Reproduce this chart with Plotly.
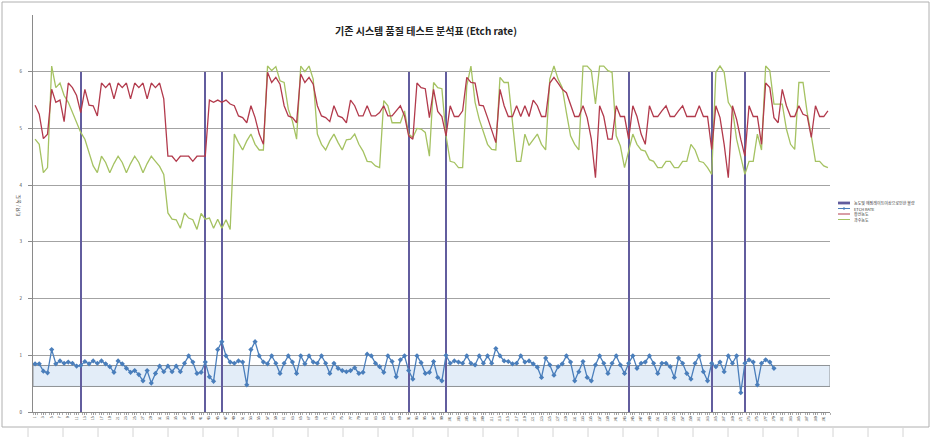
import plotly.graph_objects as go

# ---------------- data ----------------
categories = list(range(1, 193))
tick_vals = [c for c in categories if c % 2 == 1]
tick_text = [str(c) for c in tick_vals]
y_ticks = [0, 1, 2, 3, 4, 5, 6]

series_names = ["농도및 에칭레이트이상으로인한 불량", "ETCH RATE", "황산농도", "과수농도"]

event_cats = [12, 42, 46, 91, 100, 144, 164, 172]
event_vals = [6, 6, 6, 6, 6, 6, 6, 6]

etch_rate = [
    0.85, 0.85, 0.72, 0.69, 1.1, 0.85, 0.9, 0.86, 0.88, 0.86,
    0.81, 0.82, 0.89, 0.85, 0.9, 0.86, 0.9, 0.85, 0.8, 0.7,
    0.9, 0.85, 0.77, 0.7, 0.73, 0.66, 0.55, 0.73, 0.51, 0.68,
    0.81, 0.71, 0.81, 0.71, 0.81, 0.71, 0.86, 0.99, 0.88, 0.68,
    0.7, 0.88, 0.62, 0.54, 1.1, 1.24, 0.99, 0.88, 0.86, 0.9,
    0.88, 0.48, 1.1, 1.24, 0.99, 0.88, 0.85, 0.99, 0.86, 0.68,
    0.86, 0.99, 0.88, 0.68, 0.99, 0.85, 0.99, 0.88, 0.86, 0.99,
    0.86, 0.68, 0.86, 0.77, 0.73, 0.71, 0.73, 0.78, 0.68, 0.7,
    1.02, 0.99, 0.86, 0.8, 0.7, 0.99, 0.89, 0.62, 0.92, 0.99,
    0.73, 0.58, 0.99, 0.87, 0.68, 0.7,
    0.89, 0.61, 0.55, 1.0, 0.86, 0.9, 0.88, 0.86, 0.99, 0.86,
    0.83, 0.99, 0.86, 0.99, 0.86, 1.12, 0.99, 0.9, 0.89, 0.85,
    0.86, 0.99, 0.88, 0.9, 0.85, 0.79, 0.61, 0.95, 0.83, 0.65,
    0.8, 0.85, 0.99, 0.88, 0.55, 0.71, 0.89, 0.61, 0.55, 0.83,
    0.99, 0.86, 0.68, 0.86, 0.99, 0.83, 0.68, 0.86, 0.99, 0.77,
    0.86, 0.88, 0.99, 0.86, 0.68, 0.86, 0.86, 0.8, 0.61, 0.95,
    0.86, 0.68, 0.58, 0.86, 0.99, 0.71, 0.55, 0.86, 0.8, 0.88,
    0.71, 0.99, 0.86, 0.99, 0.34, 0.86, 0.92, 0.88, 0.48, 0.86,
    0.92, 0.88, 0.77,
]

sulfuric = [
    5.41, 5.25, 4.82, 4.9, 5.69, 5.46, 5.5, 5.12, 5.8, 5.72,
    5.58, 5.28, 5.69, 5.41, 5.4, 5.22, 5.8, 5.72, 5.8, 5.52,
    5.8, 5.72, 5.8, 5.52, 5.8, 5.72, 5.8, 5.52, 5.8, 5.72,
    5.8, 5.52, 4.51, 4.51, 4.42, 4.51, 4.51, 4.51, 4.42, 4.51,
    4.51, 4.51, 5.5, 5.46, 5.5, 5.46, 5.5, 5.43, 5.4, 5.22,
    5.19, 5.1, 5.4, 5.19, 4.9, 4.72, 5.99, 5.81, 5.9, 5.78,
    5.4, 5.22, 5.19, 5.1, 5.96, 5.81, 5.9, 5.78, 5.4, 5.22,
    5.19, 5.12, 5.4, 5.22, 5.19, 5.1, 5.5, 5.4, 5.22, 5.22,
    5.4, 5.22, 5.22, 5.28, 5.4, 5.22, 5.22, 5.31, 5.4, 5.22,
    4.87, 4.81, 5.8, 5.72, 5.7, 5.19, 5.69, 5.3, 5.21, 4.87,
    5.4, 5.21, 5.21, 5.31, 5.9, 5.81, 5.8, 5.41, 5.4, 5.19,
    4.96, 4.75, 5.69, 5.4, 5.21, 5.21, 5.4, 5.21, 5.4, 5.21,
    5.5, 5.4, 5.21, 5.21, 5.8, 5.9, 5.8, 5.69, 5.63, 5.4,
    5.21, 5.21, 5.4, 5.19, 4.81, 4.13, 5.4, 5.21, 4.81, 4.81,
    5.4, 5.21, 5.21, 4.81, 5.4, 5.21, 4.9, 4.72, 5.4, 5.21,
    5.21, 5.31, 5.4, 5.21, 5.21, 5.31, 5.4, 5.21, 5.21, 5.21,
    5.4, 5.21, 5.21, 4.63, 5.4, 5.19, 4.72, 4.13, 5.4, 5.16,
    4.81, 4.51, 5.4, 5.21, 5.21, 4.72, 5.8, 5.72, 5.19, 5.1,
    5.69, 5.4, 5.21, 5.21, 5.4, 5.25, 5.22, 4.84, 5.4, 5.21,
    5.21, 5.31,
]

peroxide = [
    4.81, 4.72, 4.22, 4.31, 6.1, 5.72, 5.8, 5.58, 5.46, 5.28,
    5.1, 4.93, 4.81, 4.57, 4.34, 4.22, 4.51, 4.4, 4.22, 4.38,
    4.51, 4.4, 4.22, 4.38, 4.51, 4.4, 4.22, 4.38, 4.51, 4.42,
    4.33, 4.19, 3.51, 3.4, 3.39, 3.24, 3.51, 3.42, 3.39, 3.22,
    3.5, 3.4, 3.42, 3.24, 3.4, 3.24, 3.39, 3.22, 4.9, 4.75,
    4.62, 4.78, 4.9, 4.72, 4.62, 4.62, 6.1, 6.02, 6.09, 5.84,
    5.81, 5.34, 5.13, 4.81, 6.1, 6.0, 6.1, 5.87, 4.9, 4.72,
    4.62, 4.78, 4.9, 4.75, 4.62, 4.8, 4.81, 4.9, 4.72, 4.6,
    4.42, 4.41, 4.34, 4.31, 5.49, 5.4, 5.1, 5.1, 5.1, 5.31,
    4.9, 4.84, 5.0, 4.99, 4.93, 4.51, 5.81, 5.72, 5.7, 4.87,
    4.42, 4.4, 4.31, 4.31, 5.75, 6.1, 5.46, 5.16, 4.93, 4.72,
    4.63, 4.62, 5.9, 5.81, 5.81, 5.13, 4.42, 4.42, 4.9, 4.7,
    4.81, 4.9, 4.72, 4.62, 5.87, 6.1, 5.87, 5.72, 5.28, 4.87,
    4.72, 4.62, 6.1, 6.1, 6.02, 5.43, 6.1, 6.1, 6.02, 5.99,
    4.87, 4.69, 4.31, 4.6, 4.9, 4.72, 4.62, 4.6, 4.45, 4.42,
    4.31, 4.31, 4.42, 4.42, 4.31, 4.31, 4.42, 4.42, 4.72, 4.62,
    4.42, 4.4, 4.31, 4.19, 5.99, 6.1, 5.99, 5.46, 5.34, 4.81,
    4.51, 4.19, 4.42, 4.42, 4.9, 4.62, 6.1, 6.02, 5.43, 5.43,
    5.43, 4.99, 4.72, 4.63, 5.81, 5.81, 5.28, 4.87, 4.42, 4.42,
    4.34, 4.31,
]

band_low, band_high = 0.45, 0.82

# ---------------- style / layout ----------------
W, H = 932, 437
L, R, T, B = 33, 102, 15, 25
PW, PH = W - L - R, H - T - B
FONT = "Noto Sans CJK KR"

C_EVENT = "#625d9e"
C_ETCH = "#4a7ebb"
C_SULF = "#b23a4c"
C_PER = "#a5c262"
C_GRID = "#a3a3a3"


def xp(px):
    return (px - L) / PW


def yp(py):
    return (H - B - py) / PH


fig = go.Figure()

fig.add_trace(go.Bar(
    x=event_cats, y=event_vals, width=0.5, name=series_names[0],
    marker=dict(color=C_EVENT, line=dict(width=0)), showlegend=False,
))
fig.add_trace(go.Scatter(
    x=categories[:len(peroxide)], y=peroxide, mode="lines", name=series_names[3],
    line=dict(color=C_PER, width=1.3), showlegend=False,
))
fig.add_trace(go.Scatter(
    x=categories[:len(sulfuric)], y=sulfuric, mode="lines", name=series_names[2],
    line=dict(color=C_SULF, width=1.3), showlegend=False,
))
fig.add_trace(go.Scatter(
    x=categories[:len(etch_rate)], y=etch_rate, mode="lines+markers", name=series_names[1],
    line=dict(color=C_ETCH, width=1.3),
    marker=dict(symbol="diamond", size=4, color=C_ETCH), showlegend=False,
))

shapes = []
# spec band
shapes.append(dict(type="rect", xref="x", yref="y", x0=0.5, x1=len(categories) + 0.5,
                   y0=band_low, y1=band_high, fillcolor="#e3edf8",
                   line=dict(color="#8e9296", width=1), layer="below"))
# chart frame
shapes.append(dict(type="rect", xref="paper", yref="paper", x0=xp(2), x1=xp(929),
                   y0=yp(427), y1=yp(2), line=dict(color="#b0b0b0", width=1),
                   fillcolor="rgba(0,0,0,0)", layer="below"))
# spreadsheet cell lines below chart
for k in range(27):
    px = 28 + 35 * k
    if px > W:
        break
    shapes.append(dict(type="line", xref="paper", yref="paper", x0=xp(px), x1=xp(px),
                       y0=yp(437), y1=yp(428), line=dict(color="#d4d4d4", width=1)))

# custom compact legend
leg_rows = [203, 208.5, 214, 219.5]
lx0, lx1 = 838, 850
shapes.append(dict(type="rect", xref="paper", yref="paper", x0=xp(lx0), x1=xp(lx1),
                   y0=yp(leg_rows[0] + 1.4), y1=yp(leg_rows[0] - 1.4),
                   fillcolor=C_EVENT, line=dict(width=0)))
shapes.append(dict(type="line", xref="paper", yref="paper", x0=xp(lx0), x1=xp(lx1),
                   y0=yp(leg_rows[1]), y1=yp(leg_rows[1]), line=dict(color=C_ETCH, width=1)))
shapes.append(dict(type="rect", xref="paper", yref="paper", x0=xp(843), x1=xp(845),
                   y0=yp(leg_rows[1] + 1), y1=yp(leg_rows[1] - 1),
                   fillcolor=C_ETCH, line=dict(width=0)))
shapes.append(dict(type="line", xref="paper", yref="paper", x0=xp(lx0), x1=xp(lx1),
                   y0=yp(leg_rows[2]), y1=yp(leg_rows[2]), line=dict(color=C_SULF, width=1)))
shapes.append(dict(type="line", xref="paper", yref="paper", x0=xp(lx0), x1=xp(lx1),
                   y0=yp(leg_rows[3]), y1=yp(leg_rows[3]), line=dict(color=C_PER, width=1)))

annotations = []
for name, row in zip(series_names, leg_rows):
    annotations.append(dict(text=name, xref="paper", yref="paper", x=xp(852), y=yp(row),
                            xanchor="left", yanchor="middle", showarrow=False,
                            font=dict(family=FONT, size=4, color="#333333")))
# y axis title
annotations.append(dict(text="E/R / 농도", xref="paper", yref="paper", x=xp(17), y=yp(205),
                        xanchor="center", yanchor="middle", showarrow=False, textangle=-90,
                        font=dict(family=FONT, size=5, color="#444444")))

fig.update_layout(
    width=W, height=H, autosize=False,
    margin=dict(l=L, r=R, t=T, b=B, pad=0),
    paper_bgcolor="white", plot_bgcolor="white",
    font=dict(family=FONT, color="#333333"),
    title=dict(text="<b>기존 시스템 품질 테스트 분석표 (Etch rate)</b>",
               x=426 / W, xref="container", xanchor="center",
               y=1 - 31 / H, yref="container", yanchor="middle",
               font=dict(family=FONT, size=10, color="#222222")),
    bargap=0, showlegend=False,
    shapes=shapes, annotations=annotations,
)
fig.update_xaxes(
    range=[0.5, len(categories) + 0.5], tickmode="array", tickvals=tick_vals, ticktext=tick_text,
    tickangle=-90, tickfont=dict(family=FONT, size=3.3, color="#444444"),
    showgrid=False, zeroline=False, showline=True, linecolor="#8a8a8a", linewidth=1,
    ticks="outside", ticklen=2, tickcolor="#9a9a9a",
    minor=dict(tickmode="linear", tick0=0.5, dtick=1, ticks="outside", ticklen=2, tickcolor="#b0b0b0"),
)
fig.update_yaxes(
    range=[0, 7], tickmode="array", tickvals=y_ticks, ticktext=[str(v) for v in y_ticks],
    tickfont=dict(family=FONT, size=4.5, color="#444444"),
    showgrid=True, gridcolor=C_GRID, gridwidth=1, zeroline=False,
    showline=True, linecolor="#8a8a8a", linewidth=1,
    ticks="outside", ticklen=4, tickcolor="#8a8a8a", ticklabelstandoff=5,
)

fig.write_html("out.html")
